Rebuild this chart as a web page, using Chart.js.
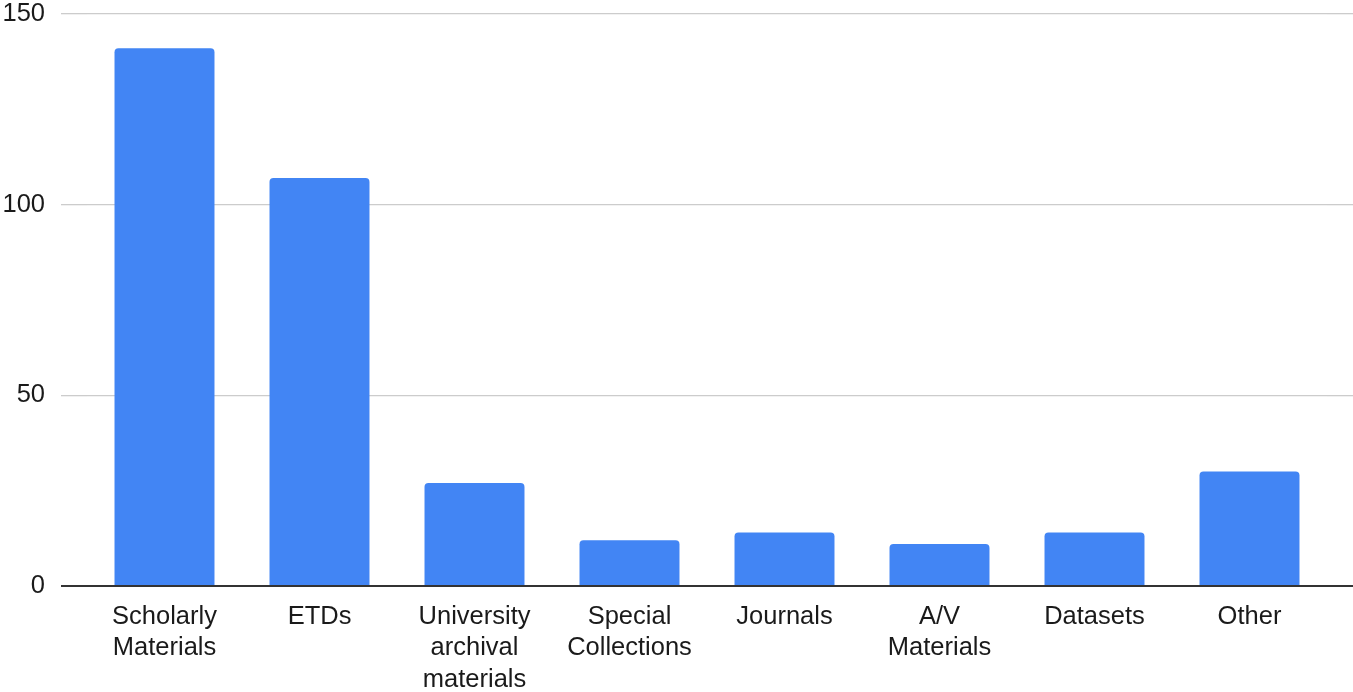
<!DOCTYPE html>
<html>
<head>
<meta charset="utf-8">
<script src="https://cdn.jsdelivr.net/npm/chart.js@4/dist/chart.umd.min.js"></script>
<style>
  html, body { margin: 0; padding: 0; background: #fff; }
  #wrap { width: 1353px; height: 692px; }
</style>
</head>
<body>
<div id="wrap"><canvas id="c" width="1353" height="692"></canvas></div>
<script>
const categories = [
  ["Scholarly", "Materials"],
  ["ETDs"],
  ["University", "archival", "materials"],
  ["Special", "Collections"],
  ["Journals"],
  ["A/V", "Materials"],
  ["Datasets"],
  ["Other"]
];
const counts = [141, 107, 27, 12, 14, 11, 14, 30];
const yTicks = [0, 50, 100, 150];

const FONT = "'Liberation Sans', Arial, sans-serif";
const gridCol = ctx => (ctx.tick && ctx.tick.value === 0) ? '#333333' : '#cccccc';
const gridW = ctx => (ctx.tick && ctx.tick.value === 0) ? 2 : 1.3;
const fixPad = s => { s.paddingTop = 14; s.paddingBottom = 0; s.paddingLeft = 0; s.paddingRight = 0; };

new Chart(document.getElementById('c'), {
  type: 'bar',
  data: {
    labels: categories,
    datasets: [{
      data: counts,
      backgroundColor: '#4285F4',
      borderRadius: 4,
      borderSkipped: 'start',
      categoryPercentage: 1,
      barPercentage: 0.645
    }]
  },
  options: {
    responsive: false,
    animation: false,
    devicePixelRatio: 1,
    layout: { padding: 0 },
    plugins: { legend: { display: false }, tooltip: { enabled: false } },
    scales: {
      x: {
        afterFit: s => { s.height = 106; s.paddingLeft = 0; s.paddingRight = 0; },
        grid: { display: false, drawTicks: false },
        border: { display: false },
        ticks: {
          color: '#1a1a1a',
          font: { family: FONT, size: 25.5, lineHeight: 1.24 },
          padding: 15,
          maxRotation: 0,
          autoSkip: false
        }
      },
      y: {
        min: 0, max: 150,
        afterBuildTicks: s => { s.ticks = yTicks.map(v => ({ value: v })); },
        afterFit: s => { s.width = 87; fixPad(s); },
        grid: {
          color: gridCol, lineWidth: gridW,
          tickColor: gridCol, tickWidth: gridW,
          drawTicks: true, tickLength: 26
        },
        border: { display: false },
        ticks: {
          color: '#1a1a1a',
          font: { family: FONT, size: 25.5, lineHeight: 1.1 },
          padding: 16
        }
      },
      yr: {
        position: 'right',
        min: 0, max: 150,
        afterBuildTicks: s => { s.ticks = yTicks.map(v => ({ value: v })); },
        afterFit: s => { s.width = 26; fixPad(s); },
        grid: {
          drawOnChartArea: false,
          color: gridCol, lineWidth: gridW,
          tickColor: gridCol, tickWidth: gridW,
          drawTicks: true, tickLength: 26
        },
        border: { display: false },
        ticks: { display: false }
      }
    }
  }
});
</script>
</body>
</html>
